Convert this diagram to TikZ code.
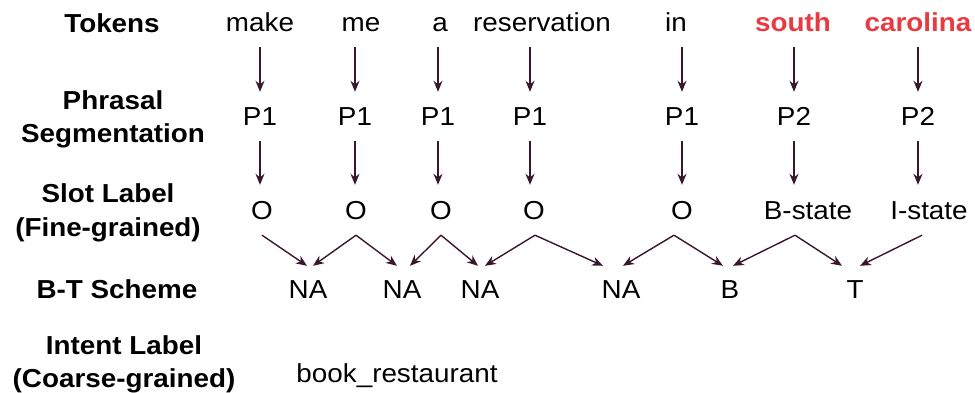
\documentclass[tikz,border=0pt]{standalone}
\usepackage{fontspec}
\setmainfont{Liberation Sans}[FakeStretch=1.07]
\usetikzlibrary{arrows.meta}
\definecolor{arrowc}{RGB}{58,24,44}
\definecolor{hilite}{RGB}{232,58,64}
\newcommand\datafont{\fontsize{26}{30}\selectfont}
\newcommand\labfont{\fontsize{26}{33}\selectfont\bfseries}
\tikzset{
  rowlabel/.style={anchor=base, align=center, inner sep=0pt, font=\labfont},
  item/.style={anchor=base, inner sep=0pt, text height=19pt, text depth=0pt, font=\datafont},
  hot/.style={item, text=hilite, font=\datafont\bfseries},
  arr/.style={draw=arrowc, line width=1.4pt,
    -{Stealth[length=11pt,width=9pt,inset=3.5pt]}},
  down/.style={arr, shorten <=15pt, shorten >=15pt}
}
\begin{document}
\begin{tikzpicture}[x=1pt,y=-1pt]
\useasboundingbox (0,0) rectangle (975,393);

% row labels (anchored at the baseline of the last line)
\node[rowlabel] (lTok) at (112,33) {Tokens};
\node[rowlabel] (lPhr) at (113,143) {Phrasal\\Segmentation};
\node[rowlabel] (lSlot) at (108,236) {Slot Label\\(Fine-grained)};
\node[rowlabel] (lBT) at (117,298) {B-T Scheme};
\node[rowlabel] (lInt) at (124,387) {Intent Label\\(Coarse-grained)};

% tokens
\node[item] (t1) at (260,32) {make};
\node[item] (t2) at (361,32) {me};
\node[item] (t3) at (440,32) {a};
\node[item] (t4) at (542,32) {reservation};
\node[item] (t5) at (676,32) {in};
\node[hot]  (t6) at (793,32) {south};
\node[hot]  (t7) at (918,32) {carolina};

% phrasal segments
\node[item] (p1) at (260,126) {P1};
\node[item] (p2) at (355,126) {P1};
\node[item] (p3) at (438,126) {P1};
\node[item] (p4) at (530,126) {P1};
\node[item] (p5) at (682,126) {P1};
\node[item] (p6) at (794,126) {P2};
\node[item] (p7) at (918,126) {P2};

% slot labels
\node[item] (o1) at (262,219) {O};
\node[item] (o2) at (356,219) {O};
\node[item] (o3) at (441,219) {O};
\node[item] (o4) at (534,219) {O};
\node[item] (o5) at (682,219) {O};
\node[item] (o6) at (808,219) {B-state};
\node[item] (o7) at (929,219) {I-state};

% B-T scheme
\node[item] (n1) at (308,298) {NA};
\node[item] (n2) at (402,298) {NA};
\node[item] (n3) at (480,298) {NA};
\node[item] (n4) at (621,298) {NA};
\node[item] (n5) at (730,298) {B};
\node[item] (n6) at (855,298) {T};

% intent
\node[item] (intent) at (397,382) {book\_restaurant};

% token -> segment -> slot
\foreach \i in {1,...,7}{
  \draw[down] (p\i.north |- t\i.south) -- (p\i.north);
  \draw[down] (p\i.south) -- (p\i.south |- o\i.north);
}

% slot -> B-T scheme
\tikzset{
  from/.style={shift={(#1pt,-16pt)}},
  to/.style={shift={(#1pt,13pt)}}
}
\draw[arr] ([from=0]o1.south) -- ([to=-1]n1.north);
\draw[arr] ([from=0]o2.south) -- ([to=5]n1.north);
\draw[arr] ([from=0]o2.south) -- ([to=-5]n2.north);
\draw[arr] ([from=0]o3.south) -- ([to=8]n2.north);
\draw[arr] ([from=0]o3.south) -- ([to=-2]n3.north);
\draw[arr] ([from=1]o4.south) -- ([to=5]n3.north);
\draw[arr] ([from=1]o4.south) -- ([to=-18]n4.north);
\draw[arr] ([from=-8]o5.south) -- ([to=2]n4.north);
\draw[arr] ([from=-8]o5.south) -- ([to=-7]n5.north);
\draw[arr] ([from=-13]o6.south) -- ([to=3]n5.north);
\draw[arr] ([from=-13]o6.south) -- ([to=-13]n6.north);
\draw[arr] ([from=-7]o7.south) -- ([to=5]n6.north);
\end{tikzpicture}
\end{document}
